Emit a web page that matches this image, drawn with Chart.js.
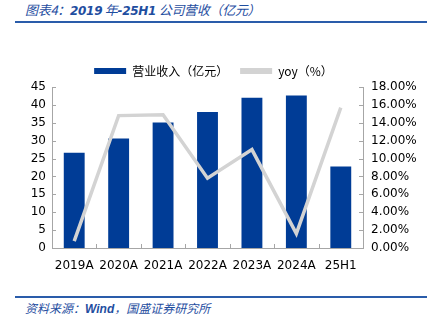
<!DOCTYPE html>
<html>
<head>
<meta charset="utf-8">
<script src="https://cdn.jsdelivr.net/npm/chart.js@4"></script>
<style>
  html, body { margin: 0; padding: 0; background: #fff; }
  #wrap { position: relative; width: 427px; height: 323px; overflow: hidden; }
  #title {
    position: absolute; left: 25px; top: 0px; height: 20px; line-height: 20px;
    font: italic 13px "Noto Sans CJK SC", sans-serif; color: #1f4e9f; white-space: nowrap;
    letter-spacing: -0.3px;
  }
  #title b { font-family: "DejaVu Sans", sans-serif; font-size: 12px; font-weight: 600; }
  .rule { position: absolute; left: 15px; right: 0; height: 2px; background: #2a5caa; }
  #source {
    position: absolute; left: 25px; top: 299px; height: 18px; line-height: 18px;
    font: italic 12px "Noto Sans CJK SC", sans-serif; color: #1f4e9f; white-space: nowrap;
  }
  #source b { font-family: "Liberation Sans", sans-serif; }
  #chart { position: absolute; left: 0; top: 50px; }
</style>
</head>
<body>
<div id="wrap">
  <div id="title">图表4：<b>2019</b> 年<b>-25H1</b> 公司营收（亿元）</div>
  <div class="rule" style="top:21px"></div>
  <canvas id="chart" width="427" height="240"></canvas>
  <div class="rule" style="top:296px"></div>
  <div id="source">资料来源：<b>Wind</b>，国盛证券研究所</div>
</div>
<script>
'use strict';

// 年度数据
const years = ['2019A', '2020A', '2021A', '2022A', '2023A', '2024A', '25H1'];
const revenue = [26.6, 30.6, 35.1, 38.0, 42.0, 42.6, 22.8];   // 亿元
const yoy = [0.77, 14.8, 14.9, 7.8, 11.0, 1.6, 15.7];          // %

const BLUE = '#003c96';
const GREY = '#d3d3d3';
const AXIS = '#a6a6a6';

// 坐标轴刻度线画在绘图区内侧
const innerTicks = {
  id: 'innerTicks',
  afterDraw(chart) {
    const c = chart.ctx;
    const x = chart.scales.x, y = chart.scales.y, y1 = chart.scales.y1;
    c.save();
    c.strokeStyle = AXIS;
    c.lineWidth = 1;
    c.beginPath();
    // x 轴：类别分界处
    for (let i = 0; i <= years.length; i++) {
      const px = Math.round(x.left + (x.right - x.left) * i / years.length) + 0.5;
      c.moveTo(px, x.top); c.lineTo(px, x.top - 4);
    }
    y.ticks.forEach((t, i) => {
      const py = Math.round(y.getPixelForTick(i)) + 0.5;
      c.moveTo(y.right, py); c.lineTo(y.right + 4, py);
    });
    y1.ticks.forEach((t, i) => {
      const py = Math.round(y1.getPixelForTick(i)) + 0.5;
      c.moveTo(y1.left, py); c.lineTo(y1.left - 4, py);
    });
    c.stroke();
    c.restore();
  }
};

const tickFont = { family: 'DejaVu Sans', size: 12 };

new Chart(document.getElementById('chart'), {
  data: {
    labels: years,
    datasets: [
      {
        type: 'bar',
        label: '营业收入（亿元）',
        data: revenue,
        backgroundColor: BLUE,
        borderWidth: 0,
        categoryPercentage: 1,
        barPercentage: 0.47,
        yAxisID: 'y',
        order: 2
      },
      {
        type: 'line',
        label: 'yoy（%）',
        data: yoy,
        borderColor: GREY,
        backgroundColor: GREY,
        borderWidth: 3.5,
        pointRadius: 0,
        tension: 0,
        yAxisID: 'y1',
        order: 1
      }
    ]
  },
  options: {
    responsive: false,
    animation: false,
    layout: { padding: { left: 0, right: 0, top: 3, bottom: 0 } },
    plugins: {
      tooltip: { enabled: false },
      legend: {
        position: 'top',
        labels: {
          boxWidth: 32,
          boxHeight: 6,
          padding: 12,
          color: '#000',
          font: { family: 'Noto Sans CJK SC', size: 12 },
          generateLabels(chart) {
            return chart.data.datasets.map((ds, i) => ({
              text: ds.label,
              fillStyle: ds.type === 'bar' ? BLUE : GREY,
              strokeStyle: ds.type === 'bar' ? BLUE : GREY,
              lineWidth: 0,
              fontColor: '#000',
              datasetIndex: i
            }));
          }
        }
      }
    },
    scales: {
      x: {
        offset: true,
        grid: { display: false, drawTicks: false },
        border: { color: AXIS },
        ticks: { color: '#000', font: tickFont, padding: 11, maxRotation: 0 },
        afterFit(s) { s.height = 42; }
      },
      y: {
        position: 'left',
        min: 0, max: 45,
        grid: { display: false, drawTicks: false },
        border: { color: AXIS },
        ticks: { stepSize: 5, color: '#000', font: tickFont, padding: 6 },
        afterFit(s) { s.width = 52; }
      },
      y1: {
        position: 'right',
        min: 0, max: 18,
        grid: { display: false, drawTicks: false },
        border: { color: AXIS },
        ticks: {
          stepSize: 2, color: '#000', font: tickFont, padding: 8,
          callback: v => v.toFixed(2) + '%'
        },
        afterFit(s) { s.width = 64; }
      }
    }
  },
  plugins: [innerTicks]
});
</script>
</body>
</html>
